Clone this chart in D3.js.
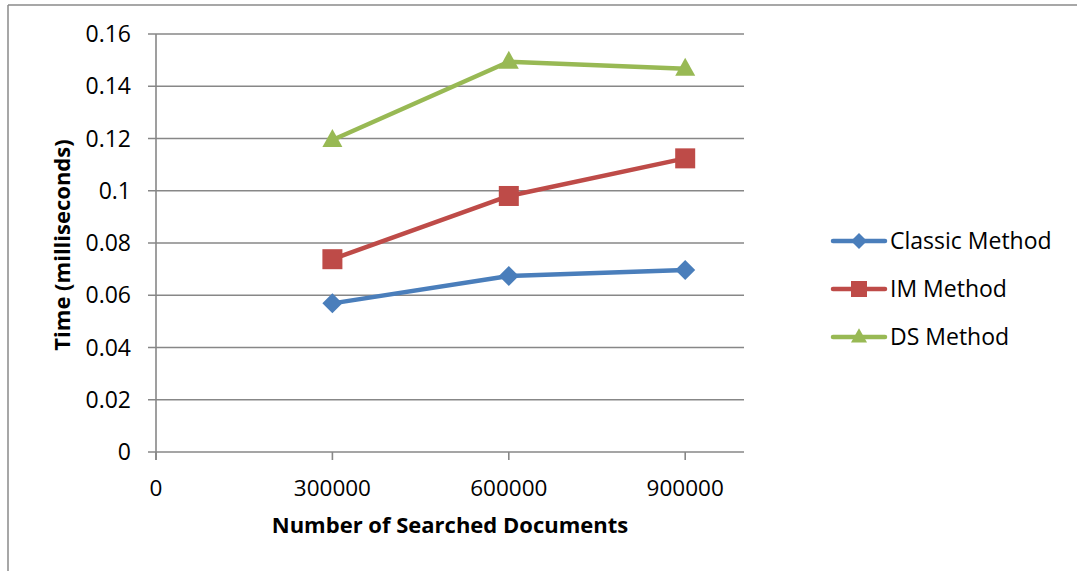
<!DOCTYPE html>
<html>
<head>
<meta charset="UTF-8">
<style>
  body { margin: 0; background: #fff; }
  svg text { font-family: "Open Sans", "Noto Sans", sans-serif; fill: #000; }
</style>
</head>
<body>
<svg id="chart"></svg>
<script src="https://d3js.org/d3.v7.min.js"></script>
<script>
// data
const docs = [300000, 600000, 900000];
const classic = [0.0569, 0.0674, 0.0697];
const imMethod = [0.0738, 0.098, 0.1124];
const dsMethod = [0.1194, 0.1494, 0.1467];
const seriesNames = ["Classic Method", "IM Method", "DS Method"];
const seriesColors = ["#4a7ebb", "#be4b48", "#98b954"];
const seriesShapes = ["diamond", "square", "triangle"];
const xTicks = [0, 300000, 600000, 900000];
const yTicks = [0, 0.02, 0.04, 0.06, 0.08, 0.1, 0.12, 0.14, 0.16];

const width = 1077, height = 571;
const svg = d3.select("#chart").attr("width", width).attr("height", height);

// chart border (only top and left visible)
svg.append("line").attr("x1", 8).attr("x2", width).attr("y1", 5).attr("y2", 5)
  .attr("stroke", "#8a8a8a").attr("stroke-width", 1.5);
svg.append("line").attr("x1", 8).attr("x2", 8).attr("y1", 5).attr("y2", height)
  .attr("stroke", "#8a8a8a").attr("stroke-width", 1.5);

const x = d3.scaleLinear().domain([0, 1000000]).range([156, 744]);
const y = d3.scaleLinear().domain([0, 0.16]).range([452, 34]);

// gridlines + y ticks
svg.append("g").selectAll("line").data(yTicks).enter().append("line")
  .attr("x1", 148).attr("x2", 744)
  .attr("y1", d => y(d)).attr("y2", d => y(d))
  .attr("stroke", "#878787").attr("stroke-width", 1.6);

// vertical axis
svg.append("line").attr("x1", x(0)).attr("x2", x(0)).attr("y1", y(0.16)).attr("y2", 460)
  .attr("stroke", "#878787").attr("stroke-width", 1.6);

// x ticks
svg.append("g").selectAll("line").data(xTicks).enter().append("line")
  .attr("x1", d => x(d)).attr("x2", d => x(d))
  .attr("y1", 452).attr("y2", 460)
  .attr("stroke", "#878787").attr("stroke-width", 1.6);

svg.append("g").selectAll("text").data(yTicks).enter().append("text")
  .attr("x", 131).attr("y", d => y(d))
  .attr("dy", "0.35em")
  .attr("text-anchor", "end")
  .style("font-size", "23px")
  .text(d => d3.format("~g")(d));

svg.append("g").selectAll("text").data(xTicks).enter().append("text")
  .attr("x", d => x(d)).attr("y", 488)
  .attr("dy", "0.35em")
  .attr("text-anchor", "middle")
  .style("font-size", "22.5px")
  .text(d => d);

// axis titles
svg.append("text").attr("x", 450).attr("y", 525).attr("dy", "0.35em")
  .attr("text-anchor", "middle")
  .style("font-size", "22px").style("font-weight", "bold")
  .text("Number of Searched Documents");

svg.append("text")
  .attr("transform", "translate(62,245) rotate(-90)")
  .attr("dy", "0.35em")
  .attr("text-anchor", "middle")
  .style("font-size", "22px").style("font-weight", "bold")
  .text("Time (milliseconds)");

const allSeries = [classic, imMethod, dsMethod];

function marker(sel, shape, color) {
  if (shape === "diamond") {
    sel.append("path").attr("d", "M0,-10L10,0L0,10L-10,0Z").attr("fill", color);
  } else if (shape === "square") {
    sel.append("rect").attr("x", -10).attr("y", -10).attr("width", 20).attr("height", 20).attr("fill", color);
  } else {
    sel.append("path").attr("d", "M0,-11L10,7L-10,7Z").attr("fill", color);
  }
}

const line = d3.line().x(d => x(d[0])).y(d => y(d[1]));

allSeries.forEach((vals, i) => {
  const pts = docs.map((d, j) => [d, vals[j]]);
  svg.append("path").datum(pts)
    .attr("d", line)
    .attr("fill", "none")
    .attr("stroke", seriesColors[i])
    .attr("stroke-width", 4.5)
    .attr("stroke-linejoin", "round")
    .attr("stroke-linecap", "round");
  pts.forEach(p => {
    const g = svg.append("g").attr("transform", `translate(${x(p[0])},${y(p[1])})`);
    marker(g, seriesShapes[i], seriesColors[i]);
  });
});

// legend
const legY = [241, 289, 337];
seriesNames.forEach((name, i) => {
  const g = svg.append("g").attr("transform", `translate(0,${legY[i]})`);
  g.append("line").attr("x1", 833).attr("x2", 885).attr("y1", 0).attr("y2", 0)
    .attr("stroke", seriesColors[i]).attr("stroke-width", 4.5).attr("stroke-linecap", "round");
  const m = g.append("g").attr("transform", "translate(859,0) scale(0.8)");
  marker(m, seriesShapes[i], seriesColors[i]);
  g.append("text").attr("x", 890).attr("y", 0).attr("dy", "0.35em")
    .style("font-size", "23px").text(name);
});
</script>
</body>
</html>
